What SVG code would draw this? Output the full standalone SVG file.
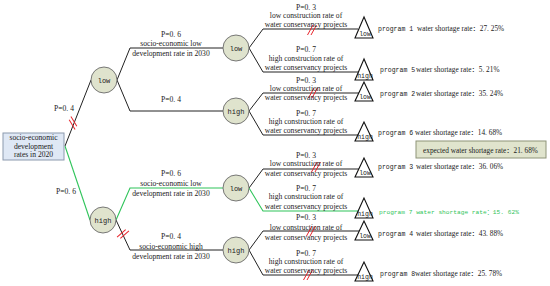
<svg xmlns="http://www.w3.org/2000/svg" width="550" height="286" viewBox="0 0 550 286">
<defs>
<style>
.ln{fill:none;stroke:#222;stroke-width:1}
.gr{fill:none;stroke:#2fc45a;stroke-width:1.1}
.hs{stroke:#e8242b;stroke-width:1}
.nd{fill:#dfe3cd;stroke:#6a6a6a;stroke-width:0.9}
.tri{fill:#fff;stroke:#111;stroke-width:1.1}
.t{font-family:"Liberation Serif","Noto Sans CJK SC",serif;font-size:7.6px;fill:#222;text-anchor:middle}
.tn{font-family:"Liberation Mono",monospace;font-size:7px;fill:#222;text-anchor:middle}
.tt{font-family:"Liberation Mono",monospace;font-size:6.5px;fill:#222;text-anchor:middle}
.pg{font-family:"Liberation Serif","Noto Sans CJK SC",serif;font-size:7.3px;fill:#222}
.pm{font-family:"Liberation Mono",monospace;font-size:6.5px;fill:#222}
.pgg{font-family:"Liberation Mono","Noto Sans CJK SC",monospace;font-size:6.2px;fill:#2fc45a}
</style>
<g id="hash">
<line class="hs" x1="-4.5" y1="5" x2="1" y2="-5"/>
<line class="hs" x1="-1" y1="5" x2="4.5" y2="-5"/>
</g>
</defs>

<g id="connectors">
<polyline class="ln" points="65,146 91,80"/>
<polyline class="gr" points="65,146 90,220"/>
<polyline class="ln" points="117,80 130,48 223,48"/>
<polyline class="ln" points="117,80 130,111 223,111"/>
<polyline class="gr" points="116,220 130,188 223,188"/>
<polyline class="ln" points="116,220 130,250 223,250"/>
<polyline class="ln" points="249,48 263,29 358,29"/>
<polyline class="ln" points="249,48 263,72 359,72"/>
<polyline class="ln" points="249,111 263,93 359,93"/>
<polyline class="ln" points="249,111 263,135 359,135"/>
<polyline class="ln" points="249,188 263,169 359,169"/>
<polyline class="gr" points="249,188 263,211 359,211"/>
<polyline class="ln" points="249,250 263,231 359,231"/>
<polyline class="ln" points="249,250 263,275 359,275"/>
<use href="#hash" transform="translate(73,123) rotate(-60)"/>
<use href="#hash" transform="translate(123,234) rotate(20)"/>
<use href="#hash" transform="translate(312,30)"/>
<use href="#hash" transform="translate(313,93)"/>
<use href="#hash" transform="translate(316,167)"/>
<use href="#hash" transform="translate(311,231)"/>
<use href="#hash" transform="translate(308,275)"/>
</g>

<g id="labels">
<text class="t" x="64" y="111">P=0. 4</text>
<text class="t" x="66" y="194">P=0. 6</text>
<text class="t" x="171" y="37">P=0. 6</text>
<text class="t" x="171" y="46">socio-economic low</text>
<text class="t" x="171" y="56">development rate in 2030</text>
<text class="t" x="171" y="102">P=0. 4</text>
<text class="t" x="171" y="176">P=0. 6</text>
<text class="t" x="171" y="186">socio-economic low</text>
<text class="t" x="171" y="196">development rate in 2030</text>
<text class="t" x="171" y="239">P=0. 4</text>
<text class="t" x="171" y="249">socio-economic high</text>
<text class="t" x="171" y="259">development rate in 2030</text>

<text class="t" x="306" y="10">P=0. 3</text>
<text class="t" x="306" y="18">low construction rate of</text>
<text class="t" x="306" y="27">water conservancy projects</text>
<text class="t" x="306" y="52">P=0. 7</text>
<text class="t" x="306" y="61">high construction rate of</text>
<text class="t" x="306" y="70">water conservancy projects</text>
<text class="t" x="306" y="83">P=0. 3</text>
<text class="t" x="306" y="90.5">low construction rate of</text>
<text class="t" x="306" y="100">water conservancy projects</text>
<text class="t" x="306" y="116">P=0. 7</text>
<text class="t" x="306" y="124">high construction rate of</text>
<text class="t" x="306" y="133">water conservancy projects</text>
<text class="t" x="306" y="157.5">P=0. 3</text>
<text class="t" x="306" y="166">low construction rate of</text>
<text class="t" x="306" y="176">water conservancy projects</text>
<text class="t" x="306" y="191">P=0. 7</text>
<text class="t" x="306" y="199">high construction rate of</text>
<text class="t" x="306" y="209">water conservancy projects</text>
<text class="t" x="306" y="219.5">P=0. 3</text>
<text class="t" x="306" y="229.5">low construction rate of</text>
<text class="t" x="306" y="239.5">water conservancy projects</text>
<text class="t" x="306" y="256">P=0. 7</text>
<text class="t" x="306" y="264">high construction rate of</text>
<text class="t" x="306" y="273">water conservancy projects</text>
</g>

<g id="root">
<rect x="3" y="133" width="61" height="27" fill="#dfe8f5" stroke="#8c9aae" stroke-width="1"/>
<text class="t" x="33.5" y="140">socio-economic</text>
<text class="t" x="33.5" y="149">development</text>
<text class="t" x="33.5" y="157">rates in 2020</text>
</g>

<g id="n-low1"><circle class="nd" cx="104" cy="80" r="13"/><text class="tn" x="104" y="82.5">low</text></g>
<g id="n-high1"><circle class="nd" cx="103" cy="220" r="13"/><text class="tn" x="103" y="222.5">high</text></g>
<g id="n-low-low"><circle class="nd" cx="236" cy="48" r="13"/><text class="tn" x="236" y="50.5">low</text></g>
<g id="n-low-high"><circle class="nd" cx="236" cy="111" r="13"/><text class="tn" x="236" y="113.5">high</text></g>
<g id="n-high-low"><circle class="nd" cx="236" cy="188" r="13"/><text class="tn" x="236" y="190.5">low</text></g>
<g id="n-high-high"><circle class="nd" cx="236" cy="250" r="13"/><text class="tn" x="236" y="252.5">high</text></g>

<g id="leaf1"><polygon class="tri" points="364,17 355,38 373,38"/><text class="tt" x="365" y="36">low</text></g>
<g id="leaf5"><polygon class="tri" points="364,59 355,80 373,80"/><text class="tt" x="365" y="78">high</text></g>
<g id="leaf2"><polygon class="tri" points="364,82 355,101 373,101"/><text class="tt" x="365" y="99">low</text></g>
<g id="leaf6"><polygon class="tri" points="364,122 355,141 373,141"/><text class="tt" x="365" y="139">high</text></g>
<g id="leaf3"><polygon class="tri" points="364,158 355,177 373,177"/><text class="tt" x="365" y="175">low</text></g>
<g id="leaf7"><polygon class="tri" points="364,198 355,218 373,218"/><text class="tt" x="365" y="216">high</text></g>
<g id="leaf4"><polygon class="tri" points="364,221 355,240 373,240"/><text class="tt" x="365" y="238">low</text></g>
<g id="leaf8"><polygon class="tri" points="364,262 355,281 373,281"/><text class="tt" x="365" y="279">high</text></g>

<g id="results">
<text class="pm" x="378" y="31">program 1</text><text class="pg" x="417" y="31">water shortage rate：27. 25%</text>
<text class="pm" x="380" y="72">program 5</text><text class="pg" x="416" y="72">water shortage rate：5. 21%</text>
<text class="pm" x="380" y="96">program 2</text><text class="pg" x="416" y="96">water shortage rate：35. 24%</text>
<text class="pm" x="378" y="135">program 6</text><text class="pg" x="415" y="135">water shortage rate：14. 68%</text>
<text class="pm" x="378" y="169">program 3</text><text class="pg" x="416" y="169">water shortage rate：36. 06%</text>
<text class="pgg" x="379" y="214">program 7 water shortage rate：15. 62%</text>
<text class="pm" x="378" y="236">program 4</text><text class="pg" x="416" y="236">water shortage rate：43. 88%</text>
<text class="pm" x="380" y="276">program 8</text><text class="pg" x="415" y="276">water shortage rate：25. 78%</text>
</g>

<g id="expected">
<rect x="416" y="141" width="130" height="17" fill="#e0e4cd" stroke="#8e9478" stroke-width="1"/>
<text class="pg" x="423" y="152.5">expected water shortage rate：21. 68%</text>
</g>
</svg>
